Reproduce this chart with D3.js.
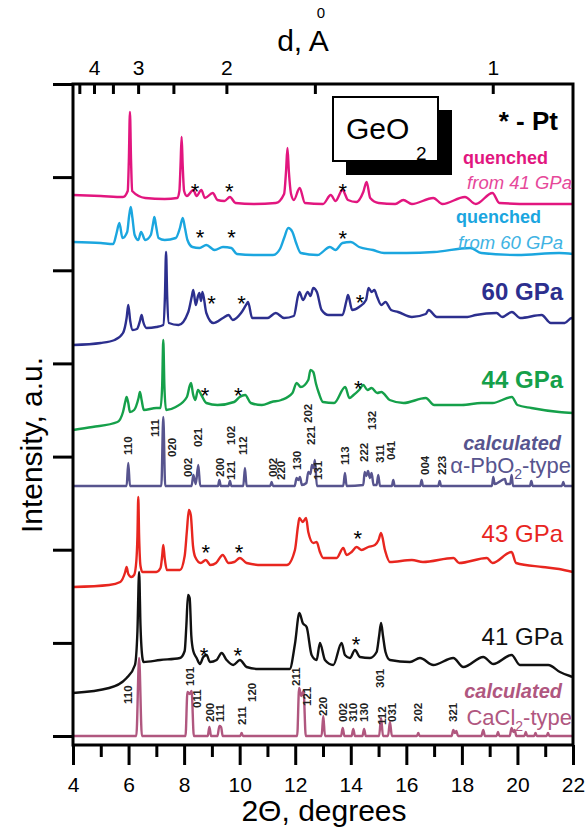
<!DOCTYPE html>
<html>
<head>
<meta charset="utf-8">
<script src="https://cdn.jsdelivr.net/npm/d3@7"></script>
<style>
body{margin:0;background:#fff;}
svg text{font-family:"Liberation Sans", Arial, Helvetica, sans-serif;}
</style>
</head>
<body>
<svg id="chart" width="586" height="835"></svg>
<script>
"use strict";
//axes: 2theta at the bottom, d-spacing (A) at the top
var twoThetaMajor = [4, 6, 8, 10, 12, 14, 16, 18, 20, 22];
var twoThetaMinor = [5, 7, 9, 11, 13, 15, 17, 19, 21];
var dTicks = [4.5, 4, 3.5, 3, 2.5, 2, 1.5, 1];
var dLabels = [4, 3, 2, 1];
var wavelength = 0.332;
var intensityTicks = [0, 93.1, 186.3, 279.4, 372.6, 465.7, 558.9, 652];

//measured patterns, [2theta, intensity a.u.] (offsets included)
var quenched41 = [[4.0,541],[5.0,540],[5.8,539],[5.97,545],[6.01,575],[6.05,624],[6.09,575],[6.13,545],[6.6,538],[7.3,537],[7.75,538],[7.83,545],[7.87,570],[7.91,599],[7.95,570],[8.0,545],[8.1,540],[8.33,546],[8.45,540],[8.62,546],[8.75,538],[9.03,543],[9.2,536],[9.45,535],[9.65,539],[9.85,533],[10.5,532],[11.3,533],[11.6,542],[11.67,565],[11.72,588],[11.77,565],[11.85,542],[11.95,536],[12.16,548],[12.35,533],[13.0,532],[13.28,541],[13.45,535],[13.7,546],[13.9,536],[14.2,534],[14.45,544],[14.57,554],[14.7,538],[15.0,533],[15.6,532],[15.89,536],[16.2,532],[16.97,538],[17.3,532],[18.11,539],[18.5,532],[19.1,543],[19.35,533],[20.5,532],[22.0,532]];
var quenched60 = [[4.0,494],[5.0,493],[5.45,492],[5.57,503],[5.67,513],[5.78,498],[5.95,504],[6.02,520],[6.08,529],[6.14,518],[6.22,501],[6.35,496],[6.45,504],[6.6,496],[6.8,501],[6.88,512],[6.93,519],[6.99,510],[7.08,498],[7.3,496],[7.7,498],[7.85,508],[7.95,518],[8.03,508],[8.12,496],[8.3,489],[8.55,488],[8.8,491],[9.1,486],[9.4,489],[9.7,488],[9.9,482],[10.5,481],[11.2,481],[11.45,487],[11.6,498],[11.75,508],[11.9,504],[12.02,494],[12.2,483],[12.8,481],[13.25,489],[13.45,486],[13.7,493],[14.0,494],[14.3,489],[14.8,486],[15.2,483],[16.0,483],[17.0,484],[18.3,488],[18.7,483],[20.0,481],[21.5,483],[22.0,482]];
var gpa60 = [[4.0,391],[5.0,393],[5.5,396],[5.8,403],[5.93,418],[5.99,431],[6.06,415],[6.15,406],[6.3,407],[6.42,416],[6.47,421],[6.53,414],[6.65,408],[7.0,409],[7.25,411],[7.31,440],[7.35,484],[7.39,440],[7.45,413],[7.8,411],[8.15,424],[8.28,440],[8.33,446],[8.42,431],[8.5,440],[8.55,443],[8.61,435],[8.66,444],[8.8,423],[9.05,413],[9.4,418],[9.6,421],[9.75,416],[10.05,423],[10.25,432],[10.3,434],[10.45,418],[11.0,418],[11.3,423],[11.6,418],[11.95,420],[12.1,440],[12.15,444],[12.28,436],[12.45,444],[12.55,440],[12.65,448],[12.78,444],[12.95,426],[13.2,421],[13.7,421],[13.85,436],[13.9,441],[14.05,426],[14.3,429],[14.55,436],[14.64,448],[14.75,444],[14.85,446],[14.95,439],[15.1,431],[15.25,434],[15.45,426],[15.7,424],[16.2,419],[16.7,422],[16.8,426],[17.1,419],[18.2,419],[18.5,421],[19.25,423],[19.45,419],[19.8,424],[20.1,418],[20.87,421],[21.2,413],[21.7,413],[21.95,418],[22.0,417]];
var gpa44 = [[4.0,306],[4.7,309],[5.6,314],[5.8,324],[5.88,334],[5.93,339],[5.99,333],[6.05,324],[6.2,326],[6.36,338],[6.41,344],[6.47,336],[6.55,326],[7.0,328],[7.15,328],[7.21,350],[7.25,396],[7.29,350],[7.35,326],[7.7,329],[8.1,339],[8.2,350],[8.25,353],[8.32,342],[8.4,336],[8.5,346],[8.62,341],[8.8,333],[9.2,331],[9.8,334],[10.0,339],[10.2,341],[10.4,333],[10.8,331],[11.15,334],[11.5,336],[11.9,343],[12.05,353],[12.2,349],[12.47,356],[12.55,366],[12.65,364],[12.75,352],[12.85,343],[13.0,334],[13.4,333],[13.8,349],[13.95,338],[14.1,341],[14.3,346],[14.45,351],[14.6,346],[14.75,348],[14.95,343],[15.1,344],[15.4,336],[15.9,333],[16.7,338],[17.0,331],[18.0,331],[18.7,333],[19.1,333],[19.8,339],[20.0,331],[20.5,328],[21.5,324],[22.0,323]];
var gpa43 = [[4.0,149],[5.3,151],[5.7,154],[5.88,164],[5.93,169],[5.99,162],[6.1,159],[6.2,161],[6.28,175],[6.32,200],[6.35,239],[6.38,200],[6.43,170],[6.5,164],[7.0,164],[7.15,168],[7.21,180],[7.25,191],[7.3,178],[7.38,166],[7.85,166],[8.02,180],[8.1,205],[8.17,226],[8.24,221],[8.32,190],[8.4,179],[8.6,173],[8.78,176],[8.95,171],[9.15,173],[9.39,181],[9.6,173],[9.8,174],[10.01,178],[10.25,173],[10.8,171],[11.7,171],[11.99,186],[12.1,210],[12.15,218],[12.27,214],[12.39,218],[12.47,204],[12.65,193],[12.77,194],[12.89,184],[13.01,178],[13.49,178],[13.73,188],[13.85,181],[14.03,184],[14.21,189],[14.39,186],[14.63,189],[14.87,191],[15.0,196],[15.09,203],[15.23,186],[15.41,174],[16.2,176],[16.6,174],[17.7,178],[17.9,173],[18.9,178],[19.1,173],[19.79,184],[19.95,173],[20.9,169],[21.5,167],[22.0,164]];
var gpa41 = [[4.0,43],[5.3,48],[5.93,58],[6.23,71],[6.32,105],[6.38,164],[6.43,110],[6.5,78],[6.54,74],[7.14,76],[7.85,78],[8.02,85],[8.08,110],[8.14,141],[8.2,138],[8.26,100],[8.33,85],[8.45,78],[8.57,72],[8.69,79],[8.81,81],[8.93,74],[9.17,76],[9.35,83],[9.53,76],[9.77,71],[10.01,76],[10.25,69],[10.7,67],[11.8,67],[11.99,92],[12.15,123],[12.27,113],[12.41,109],[12.59,81],[12.77,76],[12.89,93],[13.07,76],[13.37,71],[13.67,93],[13.79,81],[13.97,78],[14.15,86],[14.33,79],[14.69,78],[14.93,84],[15.02,100],[15.09,113],[15.16,100],[15.25,84],[15.41,76],[16.13,74],[16.49,78],[16.97,71],[17.69,78],[18.05,69],[18.77,79],[19.13,72],[19.79,81],[20.09,71],[21.11,71],[21.53,64],[21.89,60],[22.0,59]];

//calculated patterns
var calcPbO2 = [[4.0,250],[5.93,250],[5.99,273],[6.05,250],[7.18,250],[7.25,319],[7.32,250],[8.27,250],[8.33,261],[8.42,252],[8.51,271],[8.58,250],[9.22,250],[9.27,256],[9.32,250],[9.6,250],[9.65,255],[9.7,250],[10.13,250],[10.19,268],[10.25,250],[11.1,250],[11.15,254],[11.2,250],[11.98,250],[12.05,258],[12.12,256],[12.17,259],[12.24,251],[12.4,253],[12.47,264],[12.55,262],[12.6,271],[12.66,268],[12.71,276],[12.78,250],[13.73,250],[13.79,263],[13.85,250],[14.45,251],[14.5,264],[14.56,260],[14.62,265],[14.69,258],[14.75,263],[14.82,251],[14.93,251],[14.99,261],[15.05,250],[15.48,250],[15.53,256],[15.58,250],[16.5,250],[16.55,256],[16.6,250],[17.15,250],[17.2,255],[17.25,250],[19.08,250],[19.13,259],[19.18,252],[19.55,257],[19.6,252],[19.74,252],[19.79,261],[19.84,250],[20.45,250],[20.5,255],[20.55,250],[21.6,250],[21.65,254],[21.7,250],[22.0,250]];
var calcCaCl2 = [[4.0,0],[6.28,0],[6.38,78],[6.48,0],[8.05,0],[8.12,44],[8.2,42],[8.27,45],[8.35,0],[8.85,0],[8.91,9],[8.97,0],[9.2,0],[9.27,10],[9.33,9],[9.39,0],[10.02,0],[10.07,3],[10.12,0],[12.07,0],[12.14,48],[12.22,40],[12.3,45],[12.38,0],[12.95,0],[13.01,20],[13.07,0],[13.65,0],[13.71,8],[13.77,0],[14.03,0],[14.09,7],[14.15,0],[14.42,0],[14.48,7],[14.54,0],[15.02,0],[15.09,18],[15.16,0],[15.34,0],[15.41,14],[15.48,0],[16.38,0],[16.43,3],[16.48,0],[17.63,0],[17.69,6],[17.75,3],[17.8,5],[17.86,0],[18.7,0],[18.77,6],[18.83,0],[19.25,0],[19.3,4],[19.35,0],[19.72,0],[19.79,8],[19.85,4],[19.9,6],[19.96,0],[20.25,0],[20.3,4],[20.35,0],[20.6,0],[20.65,3],[20.7,0],[21.05,0],[21.1,3],[21.15,0],[22.0,0]];

//hkl indices, [label, 2theta, intensity at the foot of the label]
var pbo2Hkl = [["110",5.99,281],["111",6.95,299],["020",7.55,279],["002",8.13,259],["021",8.49,289],["200",9.29,259],["102",9.68,291],["121",9.68,256],["112",10.11,281],["002",11.18,259],["220",11.48,256],["130",12.05,266],["202",12.47,313],["221",12.56,291],["131",12.83,256],["113",13.79,271],["222",14.48,274],["132",14.75,306],["311",15.03,273],["041",15.45,276],["004",16.67,261],["223",17.27,261]];
var cacl2Hkl = [["110",5.99,32],["101",8.19,50],["011",8.45,28],["200",8.91,14],["111",9.27,14],["211",10.07,11],["120",10.43,34],["211",12.03,50],["121",12.41,30],["220",13.01,20],["002",13.71,14],["310",14.07,14],["130",14.48,14],["301",15.05,48],["112",15.11,11],["031",15.47,14],["202",16.43,14],["321",17.69,14]];

//Pt reflections marked with *, [2theta, intensity]
var ptMarks = [[8.39,550],[9.63,550],[13.71,550],[8.57,504],[9.71,504],[13.71,503],[8.99,438],[10.07,438],[14.33,439],[8.75,346],[9.95,346],[14.27,353],[8.78,189],[9.98,189],[14.25,203],[8.72,86],[9.93,86],[14.19,97]];

var patterns = [
	{data: quenched41, color: '#e2167f'},
	{data: quenched60, color: '#1ba6df'},
	{data: gpa60, color: '#2c2f8e'},
	{data: gpa44, color: '#15a04a'},
	{data: calcPbO2, color: '#57548e'},
	{data: gpa43, color: '#e8261f'},
	{data: gpa41, color: '#111111'},
	{data: calcCaCl2, color: '#b0577f'}
];

var svg = d3.select('#chart');
var x = d3.scaleLinear().domain([4, 22]).range([73, 573]);
var y = d3.scaleLinear().domain([-9, 652]).range([745, 84]);

function dToTwoTheta(d){
	return 2 * Math.asin(wavelength / (2 * d)) * 180 / Math.PI;
}

var line = d3.line()
	.curve(d3.curveMonotoneX)
	.x(function(d){return x(d[0]);})
	.y(function(d){return y(d[1]);});

svg.append('clipPath').attr('id', 'plotClip').append('rect')
	.attr('x', 73).attr('y', 84).attr('width', 500).attr('height', 661);

var plot = svg.append('g').attr('clip-path', 'url(#plotClip)');
patterns.forEach(function(p){
	plot.append('path')
		.datum(p.data)
		.attr('d', line)
		.attr('fill', 'none')
		.attr('stroke', p.color)
		.attr('stroke-width', 2.4)
		.attr('stroke-linejoin', 'round');
});

//hkl labels stand rotated above the calculated peaks
function drawHkl(labels){
	svg.append('g').selectAll('text').data(labels).enter().append('text')
		.attr('transform', function(d){return 'translate(' + x(d[1]) + ',' + y(d[2]) + ') rotate(-90)';})
		.attr('dy', '0.36em')
		.attr('fill', '#222')
		.style('font-size', '11.5px')
		.style('font-weight', 'bold')
		.text(function(d){return d[0];});
}
drawHkl(pbo2Hkl);
drawHkl(cacl2Hkl);

svg.append('g').selectAll('text').data(ptMarks).enter().append('text')
	.attr('x', function(d){return x(d[0]);})
	.attr('y', function(d){return y(d[1]);})
	.attr('dy', '0.58em')
	.attr('text-anchor', 'middle')
	.style('font-size', '22px')
	.text('*');

function styleAxis(g, size){
	g.select('.domain').remove();
	g.attr('font-family', null).attr('font-size', null);
	g.selectAll('.tick line').attr('stroke', '#000').attr('stroke-width', 3);
	g.selectAll('.tick text').attr('fill', '#000').style('font-size', size + 'px');
}

svg.append('g').attr('transform', 'translate(0,745)')
	.call(d3.axisBottom(x).tickValues(twoThetaMinor).tickSize(12).tickFormat(''))
	.call(styleAxis, 21);
svg.append('g').attr('transform', 'translate(0,745)')
	.call(d3.axisBottom(x).tickValues(twoThetaMajor).tickSize(20).tickPadding(12))
	.call(styleAxis, 21);
svg.append('g').attr('transform', 'translate(73,0)')
	.call(d3.axisLeft(y).tickValues(intensityTicks).tickSize(20).tickFormat(''))
	.call(styleAxis, 21);
svg.append('g').attr('transform', 'translate(0,84)')
	.call(d3.axisTop(x)
		.tickValues(dTicks.map(dToTwoTheta))
		.tickSizeInner(-10).tickSizeOuter(0).tickPadding(9)
		.tickFormat(function(t, i){return dLabels.indexOf(dTicks[i]) >= 0 ? dTicks[i] : '';}))
	.call(styleAxis, 21);

//frame
svg.append('rect')
	.attr('x', 73).attr('y', 84).attr('width', 500).attr('height', 661)
	.attr('fill', 'none').attr('stroke', '#000').attr('stroke-width', 3);

//axis titles
svg.append('text').attr('x', 324).attr('y', 821).attr('text-anchor', 'middle')
	.style('font-size', '30px').text('2\u0398, degrees');
svg.append('text').attr('transform', 'translate(42,445) rotate(-90)').attr('text-anchor', 'middle')
	.style('font-size', '30px').text('Intensity, a.u.');
svg.append('text').attr('x', 303).attr('y', 51).attr('text-anchor', 'middle')
	.style('font-size', '30px').text('d, A');
svg.append('text').attr('x', 321).attr('y', 18).attr('text-anchor', 'middle')
	.style('font-size', '15px').text('0');

//GeO2 box with its shadow
svg.append('rect').attr('x', 346).attr('y', 110).attr('width', 106).attr('height', 65).attr('fill', '#000');
svg.append('rect').attr('x', 333).attr('y', 97).attr('width', 105).attr('height', 64)
	.attr('fill', '#fff').attr('stroke', '#000').attr('stroke-width', 2);
svg.append('text').attr('x', 346).attr('y', 139).style('font-size', '30px').text('GeO');
svg.append('text').attr('x', 416).attr('y', 160).style('font-size', '19px').text('2');
svg.append('text').attr('x', 558).attr('y', 130).attr('text-anchor', 'end')
	.style('font-size', '26px').style('font-weight', 'bold').text('* - Pt');

//pattern names at the right
function sideLabel(txt, yy, color, size, weight, italic){
	return svg.append('text')
		.attr('x', 563).attr('y', yy).attr('text-anchor', 'end')
		.attr('fill', color)
		.style('font-size', size + 'px')
		.style('font-weight', weight)
		.style('font-style', italic ? 'italic' : 'normal')
		.text(txt);
}
sideLabel('quenched', 164, '#e2167f', 18, 'bold', false).attr('x', 548);
sideLabel('from 41 GPa', 189, '#e6489a', 18.5, 'normal', true).attr('x', 572);
sideLabel('quenched', 223, '#1ba6df', 18, 'bold', false).attr('x', 541);
sideLabel('from 60 GPa', 249, '#3fb3e3', 18.5, 'normal', true);
sideLabel('60 GPa', 300, '#2c2f8e', 24, 'bold', false);
sideLabel('44 GPa', 388, '#15a04a', 24, 'bold', false);
sideLabel('calculated', 450, '#57548e', 20, 'bold', true).attr('x', 561);
var pbo2Name = sideLabel('', 473, '#57548e', 22, 'normal', false).attr('x', 571);
pbo2Name.append('tspan').text('\u03b1-PbO');
pbo2Name.append('tspan').attr('dy', 6).style('font-size', '14px').text('2');
pbo2Name.append('tspan').attr('dy', -6).text('-type');
sideLabel('43 GPa', 542, '#e8261f', 24, 'normal', false);
sideLabel('41 GPa', 645, '#111', 24, 'normal', false);
sideLabel('calculated', 698, '#b0577f', 20, 'bold', true).attr('x', 562);
var cacl2Name = sideLabel('', 725, '#b0577f', 22, 'normal', false).attr('x', 572);
cacl2Name.append('tspan').text('CaCl');
cacl2Name.append('tspan').attr('dy', 6).style('font-size', '14px').text('2');
cacl2Name.append('tspan').attr('dy', -6).text('-type');
</script>
</body>
</html>
